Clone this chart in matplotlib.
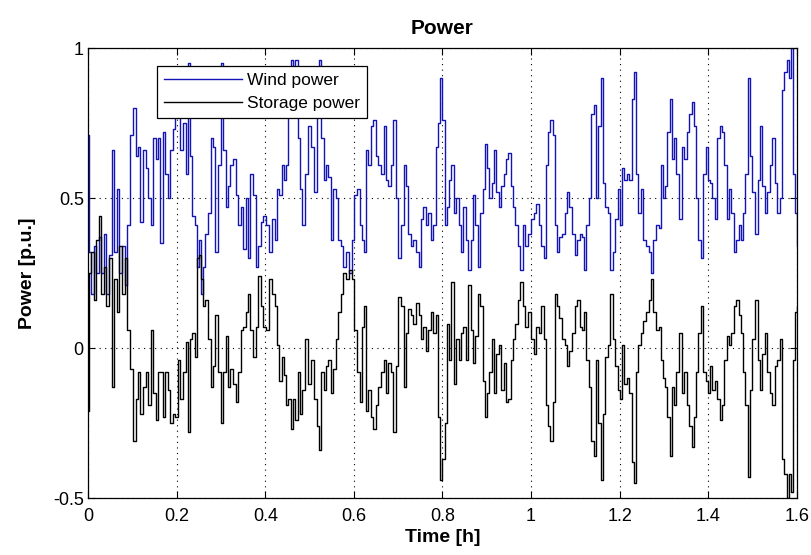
import matplotlib
matplotlib.use("Agg")
import matplotlib.pyplot as plt

# values (time in h, power in p.u.)
time_h = [
    0.000, 0.005, 0.010, 0.016, 0.022, 0.027, 0.032, 0.038, 0.044, 0.050,
    0.057, 0.062, 0.068, 0.074, 0.080, 0.085, 0.091, 0.099, 0.105, 0.110,
    0.115, 0.121, 0.127, 0.133, 0.139, 0.144, 0.150, 0.156, 0.160, 0.166,
    0.172, 0.177, 0.183, 0.189, 0.193,
    0.200, 0.204, 0.211, 0.219, 0.223, 0.227, 0.233, 0.238, 0.243, 0.248,
    0.253, 0.257, 0.262, 0.268, 0.274, 0.279, 0.285, 0.290, 0.296, 0.302,
    0.308, 0.313, 0.318, 0.324, 0.330, 0.336, 0.342, 0.347, 0.353, 0.358,
    0.363, 0.369, 0.375, 0.381, 0.387, 0.392, 0.398,
    0.406, 0.412, 0.418, 0.424, 0.429, 0.434, 0.440, 0.445, 0.449, 0.455,
    0.461, 0.466, 0.470, 0.476, 0.481, 0.487, 0.493, 0.500, 0.508, 0.514,
    0.519, 0.523, 0.529, 0.534, 0.540, 0.545, 0.551, 0.557, 0.562, 0.568,
    0.574, 0.579, 0.587, 0.592, 0.598,
    0.603, 0.611, 0.615, 0.620, 0.624, 0.630, 0.635, 0.641, 0.647, 0.652,
    0.658, 0.664, 0.670, 0.675, 0.680, 0.686, 0.692, 0.697, 0.703, 0.709,
    0.715, 0.720, 0.725, 0.731, 0.737, 0.743, 0.749, 0.754, 0.760, 0.765,
    0.770, 0.776, 0.782, 0.788, 0.793, 0.797,
    0.803, 0.808, 0.811, 0.817, 0.823, 0.828, 0.834, 0.840, 0.844, 0.849,
    0.855, 0.861, 0.866, 0.871, 0.877, 0.883, 0.888, 0.894, 0.898, 0.903,
    0.909, 0.913, 0.918, 0.924, 0.930, 0.936, 0.941, 0.946, 0.951, 0.956,
    0.961, 0.967, 0.973, 0.979, 0.984, 0.990, 0.996,
    1.003, 1.009, 1.014, 1.020, 1.026, 1.031, 1.037, 1.041, 1.046, 1.052,
    1.056, 1.061, 1.067, 1.073, 1.079, 1.084, 1.089, 1.095, 1.101, 1.107,
    1.112, 1.116, 1.122, 1.127, 1.133, 1.139, 1.144, 1.149, 1.155, 1.159,
    1.164, 1.170, 1.176, 1.182, 1.187, 1.193, 1.199,
    1.202, 1.207, 1.213, 1.219, 1.225, 1.230, 1.234, 1.239, 1.245, 1.250,
    1.256, 1.262, 1.268, 1.273, 1.279, 1.285, 1.290, 1.295, 1.300, 1.305,
    1.310, 1.315, 1.320, 1.325, 1.331, 1.338, 1.343, 1.348, 1.354, 1.360,
    1.365, 1.371, 1.375, 1.380, 1.386, 1.392, 1.398,
    1.401, 1.406, 1.411, 1.417, 1.423, 1.429, 1.434, 1.438, 1.444, 1.449,
    1.455, 1.461, 1.466, 1.471, 1.476, 1.481, 1.486, 1.491, 1.496, 1.501,
    1.508, 1.514, 1.519, 1.524, 1.530, 1.536, 1.541, 1.547, 1.553, 1.559,
    1.564, 1.569, 1.574, 1.579, 1.584, 1.589, 1.594, 1.598, 1.604,
]

wind_power = [
    0.71, 0.32, 0.18, 0.34, 0.25, 0.37, 0.25, 0.38, 0.18, 0.31,
    0.66, 0.32, 0.53, 0.25, 0.34, 0.21, 0.41, 0.71, 0.80, 0.64,
    0.67, 0.42, 0.66, 0.60, 0.50, 0.41, 0.70, 0.63, 0.70, 0.35,
    0.72, 0.58, 0.50, 0.66, 0.73,
    0.81, 0.93, 0.66, 0.75, 0.58, 0.95, 0.64, 0.44, 0.41, 0.27,
    0.36, 0.18, 0.27, 0.38, 0.45, 0.70, 0.67, 0.32, 0.61, 0.95,
    0.66, 0.47, 0.54, 0.61, 0.63, 0.51, 0.41, 0.47, 0.33, 0.50,
    0.30, 0.58, 0.51, 0.27, 0.34, 0.42, 0.44,
    0.41, 0.32, 0.43, 0.36, 0.53, 0.51, 0.61, 0.56, 0.61, 0.85,
    0.96, 0.85, 0.96, 0.70, 0.53, 0.41, 0.58, 0.74, 0.67, 0.52,
    0.90, 0.96, 0.70, 0.56, 0.61, 0.57, 0.36, 0.53, 0.50, 0.36,
    0.34, 0.27, 0.32, 0.25, 0.36,
    0.51, 0.53, 0.41, 0.36, 0.32, 0.66, 0.61, 0.74, 0.76, 0.64,
    0.61, 0.58, 0.74, 0.56, 0.54, 0.61, 0.76, 0.50, 0.30, 0.41,
    0.61, 0.54, 0.38, 0.34, 0.36, 0.32, 0.27, 0.43, 0.47, 0.41,
    0.45, 0.36, 0.41, 0.67, 0.75, 0.90,
    0.76, 0.41, 0.47, 0.56, 0.61, 0.45, 0.50, 0.41, 0.32, 0.47,
    0.36, 0.26, 0.36, 0.51, 0.41, 0.27, 0.45, 0.53, 0.68, 0.60,
    0.50, 0.55, 0.66, 0.52, 0.47, 0.54, 0.58, 0.63, 0.65, 0.54,
    0.47, 0.41, 0.34, 0.26, 0.41, 0.34, 0.38,
    0.43, 0.45, 0.48, 0.41, 0.34, 0.30, 0.61, 0.72, 0.76, 0.71,
    0.41, 0.32, 0.37, 0.38, 0.45, 0.52, 0.47, 0.38, 0.31, 0.36,
    0.38, 0.37, 0.26, 0.41, 0.50, 0.78, 0.81, 0.50, 0.74, 0.90,
    0.55, 0.47, 0.45, 0.26, 0.32, 0.43, 0.53,
    0.41, 0.60, 0.56, 0.58, 0.56, 0.83, 0.92, 0.58, 0.45, 0.53,
    0.36, 0.34, 0.32, 0.25, 0.36, 0.41, 0.40, 0.61, 0.50, 0.54,
    0.72, 0.83, 0.63, 0.70, 0.58, 0.43, 0.67, 0.63, 0.72, 0.78,
    0.82, 0.74, 0.50, 0.36, 0.30, 0.58, 0.67,
    0.56, 0.55, 0.50, 0.43, 0.70, 0.74, 0.72, 0.61, 0.43, 0.53,
    0.45, 0.32, 0.36, 0.41, 0.36, 0.45, 0.58, 0.90, 0.64, 0.52,
    0.38, 0.56, 0.74, 0.54, 0.45, 0.52, 0.61, 0.70, 0.55, 0.45,
    0.50, 0.86, 0.92, 0.96, 0.90, 1.00, 0.58, 0.45, 0.34,
]

storage_power = [
    -0.21, 0.25, 0.32, 0.16, 0.36, 0.44, 0.18, 0.27, 0.14, 0.30,
    -0.13, 0.23, 0.12, 0.34, 0.18, 0.30, 0.06, -0.07, -0.31, -0.17,
    -0.08, -0.22, -0.13, -0.08, -0.19, 0.06, -0.15, -0.24, -0.08, -0.08,
    -0.23, -0.08, -0.14, -0.25, -0.22,
    -0.23, -0.04, -0.17, -0.08, 0.02, -0.28, 0.03, 0.05, -0.03, 0.30,
    0.31, 0.23, 0.14, 0.16, 0.03, -0.13, -0.06, 0.11, -0.08, -0.25,
    -0.08, 0.04, -0.13, -0.07, -0.12, -0.18, -0.08, 0.06, 0.07, 0.12,
    0.18, 0.06, -0.03, 0.07, 0.24, 0.14, 0.07,
    0.06, 0.23, 0.18, 0.14, 0.01, -0.11, -0.03, -0.09, -0.19, -0.17,
    -0.27, -0.17, -0.24, -0.08, -0.22, -0.14, 0.03, -0.12, -0.04, -0.17,
    -0.26, -0.34, -0.08, -0.14, -0.06, -0.04, -0.15, -0.07, 0.03, 0.12,
    0.18, 0.25, 0.23, 0.26, 0.23,
    0.06, -0.08, -0.18, 0.07, 0.14, -0.21, -0.14, -0.23, -0.27, -0.19,
    -0.13, -0.08, -0.04, -0.15, -0.05, -0.08, -0.28, -0.06, 0.17, 0.14,
    -0.13, 0.05, 0.13, 0.11, 0.08, 0.15, 0.11, 0.03, 0.07, -0.01,
    0.06, 0.12, 0.05, 0.11, -0.23, -0.44,
    -0.37, -0.25, 0.08, -0.04, 0.22, -0.12, 0.03, -0.04, 0.05, 0.07,
    -0.04, 0.21, 0.06, -0.05, 0.04, 0.18, 0.14, -0.11, -0.23, -0.15,
    -0.08, 0.03, -0.15, -0.02, 0.01, -0.14, -0.05, -0.18, -0.17, -0.04,
    0.03, 0.08, 0.16, 0.22, 0.14, 0.07, 0.12,
    0.03, -0.02, 0.07, 0.05, 0.14, 0.03, -0.19, -0.26, -0.31, -0.18,
    0.18, 0.14, 0.10, 0.03, 0.01, -0.06, -0.01, 0.05, 0.14, 0.16,
    0.07, 0.06, 0.12, -0.04, -0.13, -0.31, -0.36, -0.04, -0.25, -0.44,
    -0.22, -0.03, 0.01, 0.18, 0.03, -0.06, -0.14,
    -0.17, 0.01, -0.12, -0.10, -0.15, -0.38, -0.45, -0.08, 0.01, 0.05,
    0.09, 0.12, 0.16, 0.23, 0.12, 0.06, 0.07, -0.04, -0.10, -0.13,
    -0.23, -0.36, -0.13, -0.19, -0.08, 0.05, -0.15, -0.08, -0.19, -0.26,
    -0.33, -0.23, -0.08, 0.05, 0.14, -0.08, -0.11,
    -0.15, -0.06, -0.14, -0.11, -0.17, -0.24, -0.19, -0.04, 0.04, 0.01,
    0.05, 0.14, 0.16, 0.11, 0.05, -0.08, -0.19, -0.43, -0.14, 0.03,
    0.16, -0.04, -0.14, -0.02, 0.05, -0.08, -0.15, -0.19, -0.06, -0.04,
    0.03, -0.37, -0.42, -0.50, -0.42, -0.48, -0.04, 0.12, 0.14,
]

x_ticks = [0, 0.2, 0.4, 0.6, 0.8, 1.0, 1.2, 1.4, 1.6]
x_tick_labels = ["0", "0.2", "0.4", "0.6", "0.8", "1", "1.2", "1.4", "1.6"]
y_ticks = [-0.5, 0, 0.5, 1]
y_tick_labels = ["-0.5", "0", "0.5", "1"]

plt.rcParams["font.family"] = ["Liberation Sans Narrow", "Liberation Sans", "DejaVu Sans"]

fig = plt.figure(figsize=(8.12, 5.55), dpi=100)
ax = fig.add_axes([0.1084, 0.1027, 0.8731, 0.8108])

# stepped look like the reference's blocky traces
ax.plot(time_h, wind_power, color="#1414b4", linewidth=1.0, drawstyle="steps-mid", label="Wind power")
ax.plot(time_h, storage_power, color="black", linewidth=1.0, drawstyle="steps-mid", label="Storage power")

ax.set_xlim(0, 1.6)
ax.set_ylim(-0.5, 1)
ax.set_xticks(x_ticks)
ax.set_xticklabels(x_tick_labels)
ax.set_yticks(y_ticks)
ax.set_yticklabels(y_tick_labels)
ax.tick_params(direction="in", top=True, right=True, length=5, labelsize=13)
ax.tick_params(axis="x", pad=7)
ax.tick_params(axis="y", pad=3)
ax.grid(True, linestyle=(0, (1, 4)), color="black", linewidth=0.8)
for sp in ax.spines.values():
    sp.set_linewidth(0.9)

ax.set_title("Power", fontsize=15, fontweight="bold", family=["Liberation Sans", "DejaVu Sans"], pad=10)
ax.set_xlabel("Time [h]", fontsize=14, fontweight="bold", family=["Liberation Sans", "DejaVu Sans"], labelpad=3)
ax.set_ylabel("Power [p.u.]", fontsize=14, fontweight="bold", family=["Liberation Sans", "DejaVu Sans"], labelpad=12)

leg = ax.legend(loc="upper left", bbox_to_anchor=(0.097, 0.96), fancybox=False, framealpha=1,
                edgecolor="black", fontsize=12.5, handlelength=4.5, borderpad=0.4,
                labelspacing=0.45, handletextpad=0.3, borderaxespad=0)
leg.get_frame().set_linewidth(0.9)

fig.savefig("out.png", dpi=100)
